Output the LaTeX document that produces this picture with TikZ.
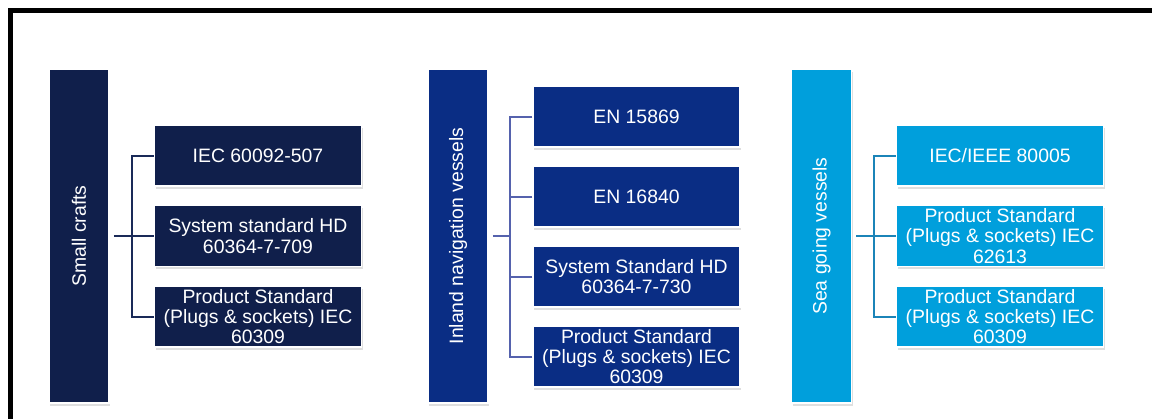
\documentclass[tikz,border=0pt]{standalone}
\usepackage{fontspec}
\setmainfont{Liberation Sans}
\usetikzlibrary{shadows}
\definecolor{navyA}{HTML}{101F4B}
\definecolor{blueB}{HTML}{0A2D84}
\definecolor{cyanC}{HTML}{009FDC}
\definecolor{lineA}{HTML}{1A2A58}
\definecolor{lineB}{HTML}{5562AD}
\definecolor{lineC}{HTML}{1B84B8}
\begin{document}
\begin{tikzpicture}[x=1pt,y=-1pt,
  boxbase/.style={draw=white, line width=1.5pt, inner sep=0pt, text=white, align=center,
    font=\fontsize{19.4}{20.2}\selectfont,
    drop shadow={opacity=0.25, shadow xshift=1pt, shadow yshift=-2.5pt}},
  parentbox/.style={boxbase, minimum width=60pt, minimum height=334pt},
  childbox/.style={boxbase, minimum width=207pt, minimum height=61pt},
  conn/.style={line width=2pt}]
\useasboundingbox (0,0) rectangle (1152,418);
\fill[white] (0,0) rectangle (1152,418);
\draw[line width=5pt] (10,420) -- (10,10) -- (1154,10);

% Small crafts
\node[parentbox, fill=navyA] (sc) at (79,236) {\rotatebox{90}{Small crafts}};
\node[childbox, fill=navyA] (a1) at (258,155.5) {IEC 60092-507};
\node[childbox, fill=navyA] (a2) at (258,236) {System standard HD\\60364-7-709};
\node[childbox, fill=navyA] (a3) at (258,316.5) {Product Standard\\(Plugs \& sockets) IEC\\60309};
\coordinate (ja) at (132,236);
\draw[conn, lineA, shorten <=4pt] (sc.east) -- (ja);
\draw[conn, lineA] (a1.west) -| (ja);
\draw[conn, lineA] (a2.west) -- (ja);
\draw[conn, lineA] (a3.west) -| (ja);

% Inland navigation vessels
\node[parentbox, fill=blueB] (in) at (458,236) {\rotatebox{90}{Inland navigation vessels}};
\node[childbox, fill=blueB] (b1) at (636.5,116.5) {EN 15869};
\node[childbox, fill=blueB] (b2) at (636.5,196.5) {EN 16840};
\node[childbox, fill=blueB] (b3) at (636.5,276.5) {System Standard HD\\60364-7-730};
\node[childbox, fill=blueB] (b4) at (636.5,356.5) {Product Standard\\(Plugs \& sockets) IEC\\60309};
\coordinate (jb) at (510,236);
\draw[conn, lineB, shorten <=4pt] (in.east) -- (jb);
\draw[conn, lineB] (b1.west) -| (jb);
\draw[conn, lineB] (b2.west) -| (jb);
\draw[conn, lineB] (b3.west) -| (jb);
\draw[conn, lineB] (b4.west) -| (jb);

% Sea going vessels
\node[parentbox, fill=cyanC] (sg) at (821.5,236) {\rotatebox{90}{Sea going vessels}};
\node[childbox, fill=cyanC] (c1) at (1000,155.5) {IEC/IEEE 80005};
\node[childbox, fill=cyanC] (c2) at (1000,236) {Product Standard\\(Plugs \& sockets) IEC\\62613};
\node[childbox, fill=cyanC] (c3) at (1000,316.5) {Product Standard\\(Plugs \& sockets) IEC\\60309};
\coordinate (jc) at (874,236);
\draw[conn, lineC, shorten <=4pt] (sg.east) -- (jc);
\draw[conn, lineC] (c1.west) -| (jc);
\draw[conn, lineC] (c2.west) -- (jc);
\draw[conn, lineC] (c3.west) -| (jc);
\end{tikzpicture}
\end{document}
